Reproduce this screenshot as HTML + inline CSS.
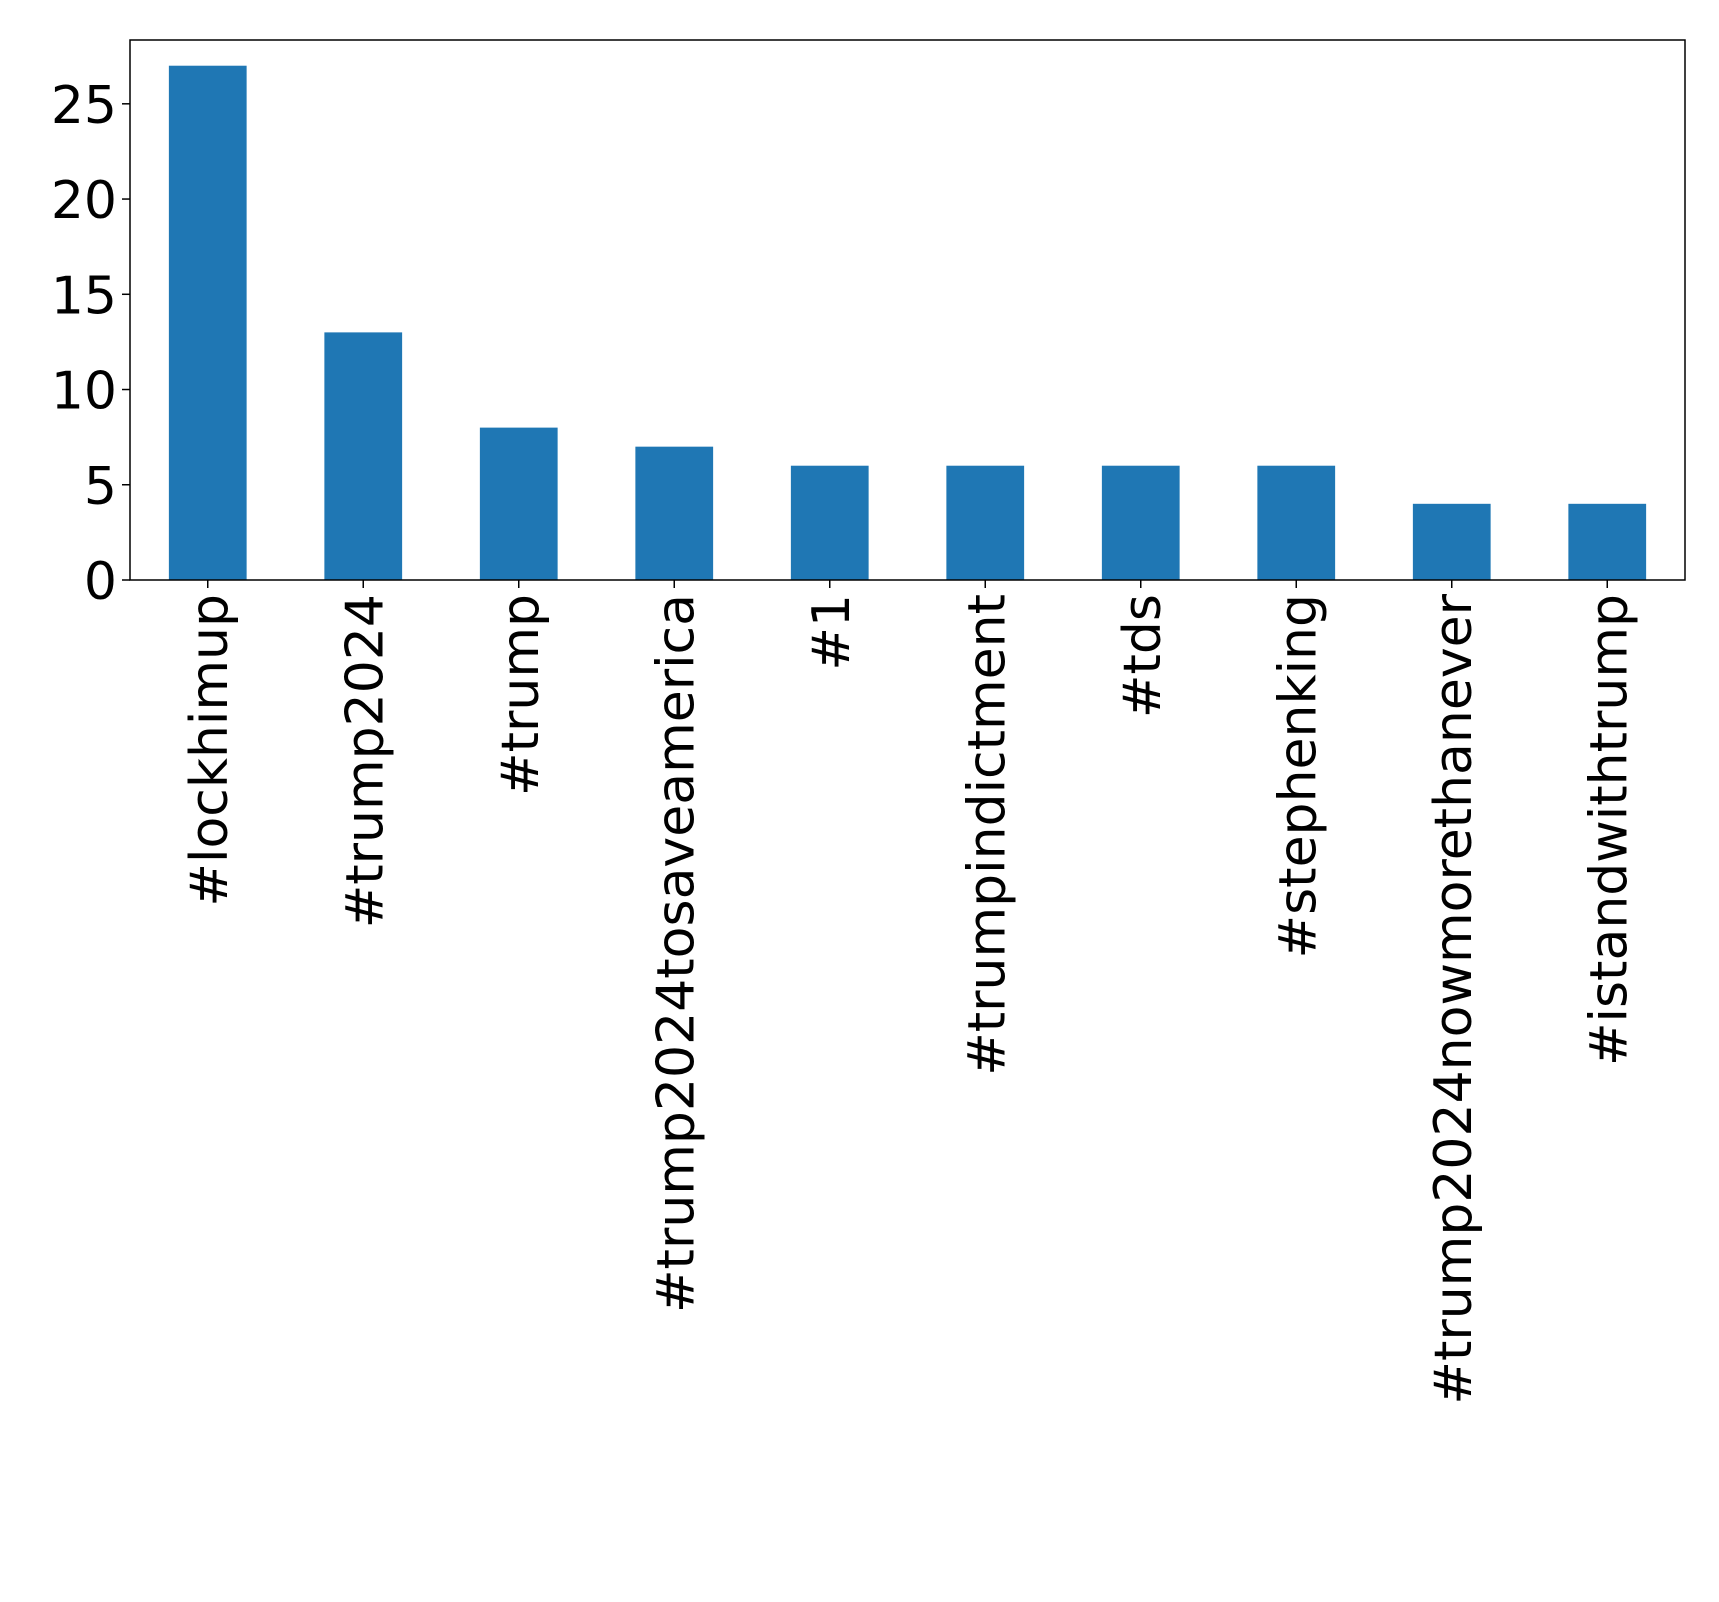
<!DOCTYPE html>
<html><head><meta charset="utf-8"><style>body{margin:0;background:#fff}svg{display:block}</style></head>
<body>
<svg width="1719" height="1602" viewBox="0 0 1719 1602" font-family="'DejaVu Sans','Liberation Sans',sans-serif">
<g id="bars"></g>
<g id="yaxis"></g>
<g id="xaxis"></g>
<rect x="130" y="40" width="1555" height="540" fill="none" stroke="#000" stroke-width="1.5"/>
</svg>
<script>
const categories = ["#lockhimup","#trump2024","#trump","#trump2024tosaveamerica","#1","#trumpindictment","#tds","#stephenking","#trump2024nowmorethanever","#istandwithtrump"];
const values = [27,13,8,7,6,6,6,6,4,4];
const yTicks = [0,5,10,15,20,25];
const NS="http://www.w3.org/2000/svg";
const L=130,R=1685,T=40,B=580,yMax=28.35;
const n=categories.length;
const x=i=>L+(i+0.5)*(R-L)/n;
const y=v=>B-v*(B-T)/yMax;
const bw=0.5*(R-L)/n;
const bars=document.getElementById('bars'),ya=document.getElementById('yaxis'),xa=document.getElementById('xaxis');
function mk(t,a){const e=document.createElementNS(NS,t);for(const k in a)e.setAttribute(k,a[k]);return e;}
values.forEach((v,i)=>{
 const r=mk('rect',{x:x(i)-bw/2,y:y(v),width:bw,height:y(0)-y(v),fill:'#1f77b4'});
 
 
 bars.appendChild(r);
});
yTicks.forEach(t=>{
 const l=mk('line',{x1:L-8,x2:L,y1:y(t),y2:y(t),stroke:'#000','stroke-width':1.5});
 
 
 ya.appendChild(l);
 const tx=mk('text',{x:L-13,y:y(t)+19,'text-anchor':'end','font-size':52,fill:'#000'});
 tx.textContent=t;
 
 
 ya.appendChild(tx);
});
categories.forEach((c,i)=>{
 const l=mk('line',{x1:x(i),x2:x(i),y1:B,y2:B+8,stroke:'#000','stroke-width':1.5});
 
 
 xa.appendChild(l);
 const tx=mk('text',{x:0,y:0,'text-anchor':'end','font-size':52,fill:'#000',transform:`translate(${x(i)+19},${B+14}) rotate(-90)`});
 tx.textContent=c;
 
 
 xa.appendChild(tx);
});
</script>
</body></html>
